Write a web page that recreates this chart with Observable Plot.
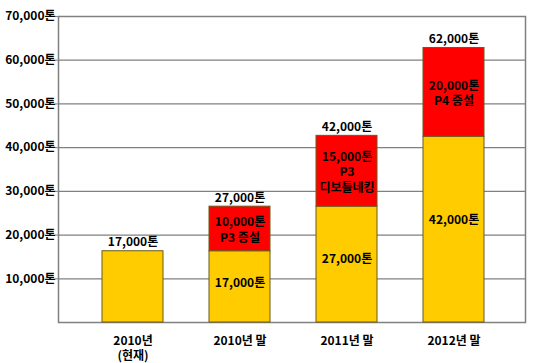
<!DOCTYPE html>
<html><head><meta charset="utf-8">
<script src="https://cdn.jsdelivr.net/npm/d3@7"></script>
<script src="https://cdn.jsdelivr.net/npm/@observablehq/plot@0.6"></script>
<style>
body{margin:0;background:#fff;}
svg{font-family:"Noto Sans CJK KR","Noto Sans",sans-serif;}
</style></head><body><div id="chart"></div>
<script>
const categories = ["2010년\n(현재)", "2010년 말", "2011년 말", "2012년 말"];
// drawn heights of the segments (tons)
const baseValues = [16300, 16300, 26500, 42500];
const addedValues = [0, 10200, 16200, 20300];
// printed labels
const totalLabels = ["17,000톤", "27,000톤", "42,000톤", "62,000톤"];
const baseLabels = ["", "17,000톤", "27,000톤", "42,000톤"];
const addedLabels = ["", "10,000톤\nP3 증설", "15,000톤\nP3\n디보틀네킹", "20,000톤\nP4 증설"];
const yTicks = [10000, 20000, 30000, 40000, 50000, 60000, 70000];

const rows = categories.map((c, i) => ({
  cat: c, base: baseValues[i], added: addedValues[i], top: baseValues[i] + addedValues[i],
  total: totalLabels[i], baseLabel: baseLabels[i], addedLabel: addedLabels[i]
}));
const redRows = rows.filter(d => d.added > 0);

const chart = Plot.plot({
  width: 550, height: 363,
  marginTop: 16, marginBottom: 41, marginLeft: 58, marginRight: 25,
  style: {fontFamily: '"Noto Sans CJK KR","Noto Sans",sans-serif', fontSize: "12px", fontWeight: "bold", color: "#000"},
  x: {domain: categories, range: [101.5, 483.5], paddingInner: 0.43, paddingOuter: 0},
  y: {domain: [0, 70000]},
  marks: [
    Plot.ruleY(yTicks, {stroke: "#808080", strokeWidth: 1.2}),
    Plot.frame({stroke: "#808080", strokeWidth: 1.5}),
    Plot.axisY({ticks: yTicks, tickFormat: d => d3.format(",")(d) + "톤", tickSize: 3, tickPadding: 0, stroke: "#808080", fontSize: 12, fontWeight: "bold", fill: "#000", label: null}),
    Plot.axisX({tickSize: 0, tickPadding: 11, fontSize: 12, fontWeight: "bold", fill: "#000", lineHeight: 1.3, label: null}),
    Plot.barY(rows, {x: "cat", y1: 0, y2: "base", fill: "#FFCC00", stroke: "#6b5a1a", strokeWidth: 1, inset: 0}),
    Plot.barY(redRows, {x: "cat", y1: "base", y2: "top", fill: "#FF0000", stroke: "#6b5a1a", strokeWidth: 1, inset: 0}),
    Plot.text(rows, {x: "cat", y: "top", text: "total", dy: -9, fontSize: 12, fontWeight: "bold", fill: "#000"}),
    Plot.text(rows.filter(d => d.baseLabel), {x: "cat", y: d => d.base * 0.55, text: "baseLabel", fontSize: 12, fontWeight: "bold", fill: "#000"}),
    Plot.text(redRows, {x: "cat", y: d => d.base + d.added / 2, text: "addedLabel", fontSize: 12, fontWeight: "bold", fill: "#000", lineHeight: 1.3})
  ]
});
document.getElementById("chart").appendChild(chart);
</script></body></html>
